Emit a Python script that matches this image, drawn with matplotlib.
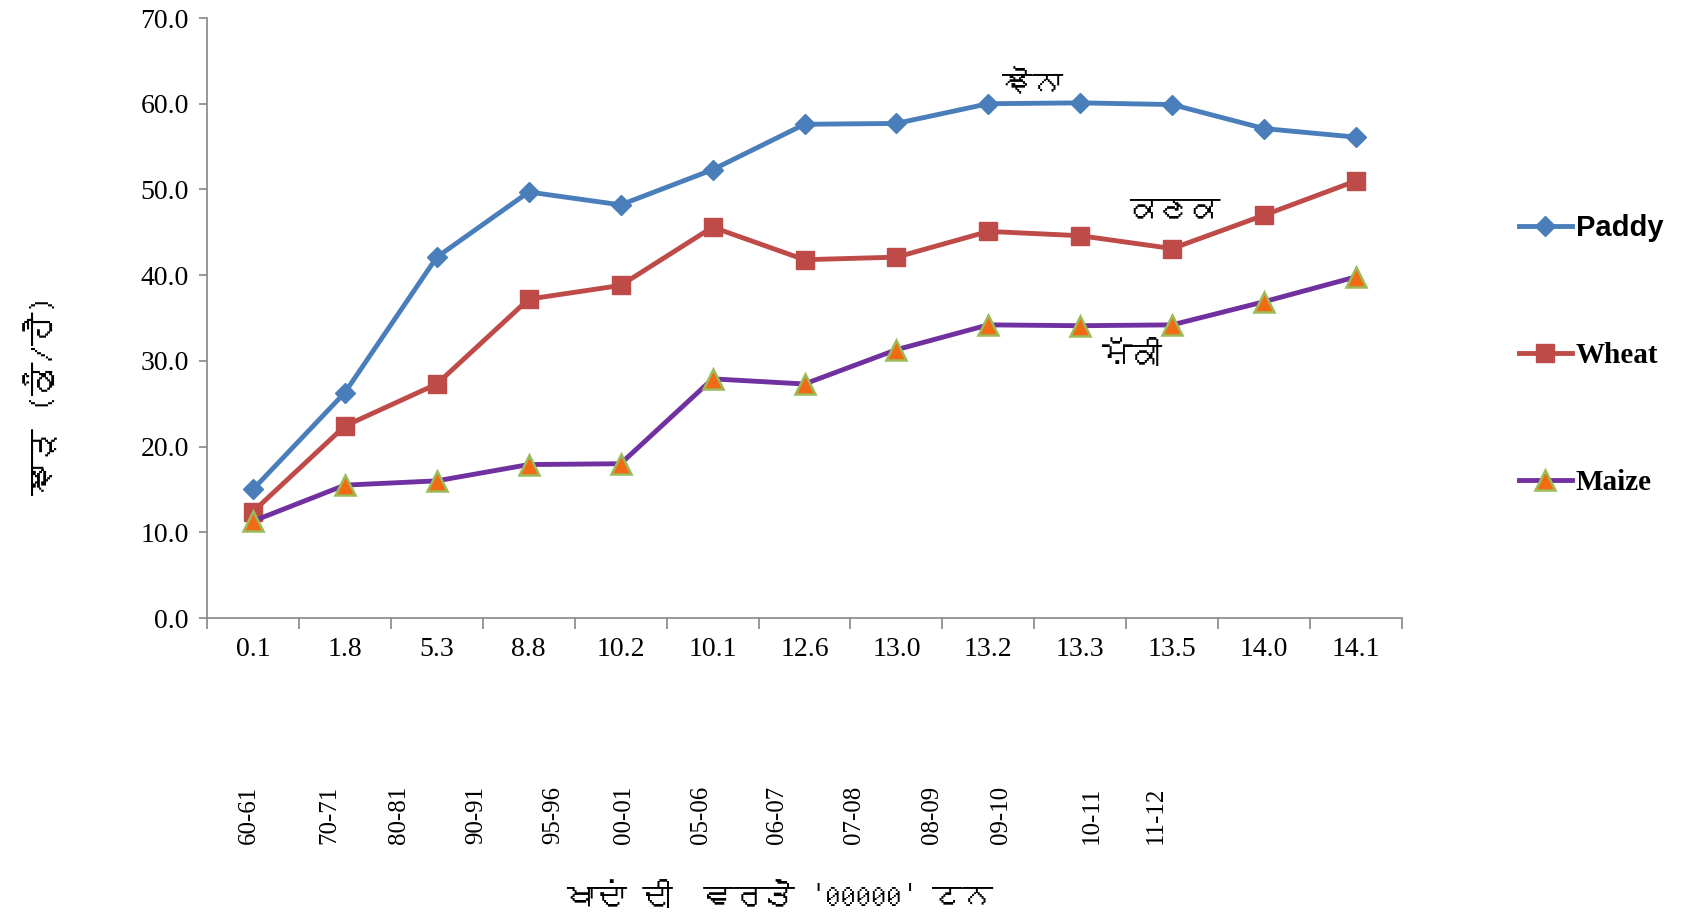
import matplotlib
matplotlib.use('Agg')
import matplotlib.pyplot as plt
from matplotlib import font_manager
from fontTools.ttLib import TTFont


# data
fert_use = ['0.1', '1.8', '5.3', '8.8', '10.2', '10.1', '12.6', '13.0', '13.2', '13.3', '13.5', '14.0', '14.1']
years = ['60-61', '70-71', '80-81', '90-91', '95-96', '00-01', '05-06', '06-07', '07-08', '08-09', '09-10', '10-11', '11-12']
paddy = [15.0, 26.3, 42.1, 49.7, 48.2, 52.3, 57.6, 57.7, 60.0, 60.1, 59.9, 57.1, 56.1]
wheat = [12.4, 22.4, 27.3, 37.2, 38.8, 45.6, 41.8, 42.1, 45.1, 44.6, 43.1, 47.0, 51.0]
maize = [11.3, 15.5, 16.0, 17.9, 18.0, 27.9, 27.3, 31.3, 34.2, 34.1, 34.2, 36.9, 39.8]

y_label = 'ਝਾੜ (ਕੁੰ/ਹੈ)'
x_label = "ਖਾਦਾਂ ਦੀ  ਵਰਤੋਂ '00000' ਟਨ"
crop_names = ['ਝੋਨਾ', 'ਕਣਕ', 'ਮੱਕੀ']

W, H = 1682, 918


def find_font(ch):
    # look for any installed font that has the glyph
    for f in font_manager.fontManager.ttflist:
        try:
            tt = TTFont(f.fname, fontNumber=0, lazy=True)
            cmap = tt.getBestCmap()
            if cmap and ord(ch) in cmap:
                return f.name
        except Exception:
            continue
    return None


guru = find_font('ਕ')
guru_family = [guru, 'DejaVu Sans'] if guru else ['DejaVu Sans']
serif = 'Liberation Serif'

fig = plt.figure(figsize=(W / 100, H / 100), dpi=100)
ax = fig.add_axes([207 / W, 1 - 618 / H, (1402 - 207) / W, (618 - 18) / H])

x = list(range(len(fert_use)))
ax.plot(x, paddy, color='#4A7EBB', lw=3.5, marker='D', ms=10, mfc='#4A7EBB', mec='#4A7EBB', label='Paddy')
ax.plot(x, wheat, color='#BE4B48', lw=3.5, marker='s', ms=13, mfc='#BE4B48', mec='#BE4B48', label='Wheat')
ax.plot(x, maize, color='#7030A0', lw=3.5, marker='^', ms=14, mfc='#F26A14', mec='#9BBB59', mew=1.8, label='Maize')

ax.set_xlim(-0.5, len(fert_use) - 0.5)
ax.set_ylim(0, 70)
ax.set_yticks([0, 10, 20, 30, 40, 50, 60, 70])
ax.set_yticklabels(['%.1f' % v for v in ax.get_yticks()], fontfamily=serif, fontsize=20)

# category axis: tick marks between categories, labels at centres
ax.set_xticks([i - 0.5 for i in range(len(fert_use) + 1)])
ax.set_xticklabels([])
ax.set_xticks(x, minor=True)
ax.set_xticklabels(fert_use, minor=True, fontfamily=serif, fontsize=20)
ax.tick_params(axis='x', which='major', length=8, color='#868686', width=1.2)
ax.tick_params(axis='x', which='minor', length=0, pad=14)
ax.tick_params(axis='y', length=6, color='#868686', width=1.2, pad=7)

for s in ['top', 'right']:
    ax.spines[s].set_visible(False)
for s in ['left', 'bottom']:
    ax.spines[s].set_color('#868686')
    ax.spines[s].set_linewidth(1.2)

# crop names next to the lines
ax.text(0.691, 0.891, crop_names[0], transform=ax.transAxes, ha='center', va='center',
        fontsize=22, fontweight='bold', family=guru_family)
ax.text(0.810, 0.682, crop_names[1], transform=ax.transAxes, ha='center', va='center',
        fontsize=22, fontweight='bold', family=guru_family)
ax.text(0.774, 0.440, crop_names[2], transform=ax.transAxes, ha='center', va='center',
        fontsize=22, fontweight='bold', family=guru_family)

# year labels sit in their own row below the axis
year_px = [249, 329, 399, 476, 553, 624, 701, 777, 854, 932, 1001, 1092, 1156]
for xp, yr in zip(year_px, years):
    fig.text(xp / W, 1 - 815 / H, yr, rotation=90, ha='center', va='center',
             fontfamily=serif, fontsize=18)

fig.text(780 / W, 1 - 896 / H, x_label, ha='center', va='center', fontsize=22,
         family=guru_family)
fig.text(41 / W, 1 - 395 / H, y_label, rotation=90, ha='center', va='center', fontsize=24,
         fontweight='bold', family=guru_family)

leg = ax.legend(loc='center left', bbox_to_anchor=(1519 / W, 1 - 355 / H),
                bbox_transform=fig.transFigure, frameon=False, fontsize=21,
                borderpad=0, borderaxespad=0, handlelength=1.8, handletextpad=0.15,
                labelspacing=3.42)
fonts = ['Liberation Sans', serif, serif]
for t, fn in zip(leg.get_texts(), fonts):
    t.set_fontfamily(fn)
    t.set_fontweight('bold')

fig.savefig('out.png', dpi=100)
